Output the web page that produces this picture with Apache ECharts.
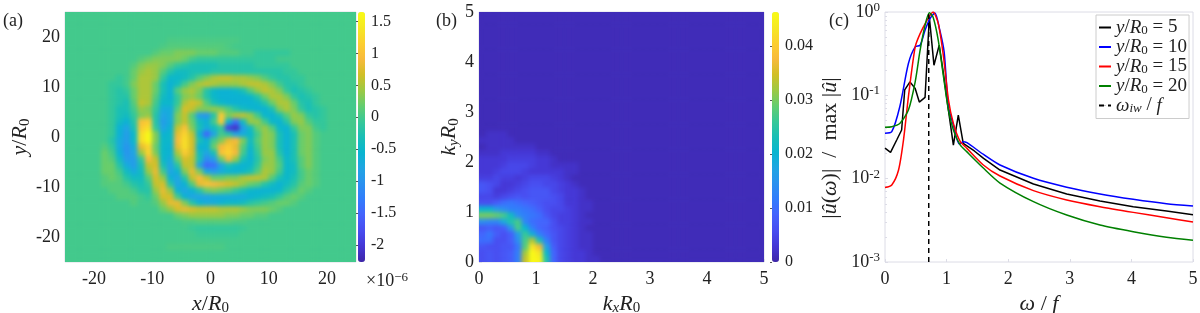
<!DOCTYPE html>
<html><head><meta charset="utf-8">
<script src="https://cdn.jsdelivr.net/npm/echarts@6/dist/echarts.min.js"></script>
<style>
html,body{margin:0;padding:0;background:#fff}
#c{width:1200px;height:313px}
canvas[data-zr-dom-id="zr_1"]{filter:url(#soft);clip-path:path('M65 12H356V262H65Z M479 12H764V262H479Z')}
</style></head><body>
<svg width="0" height="0" style="position:absolute"><filter id="soft" x="0" y="0" width="100%" height="100%" color-interpolation-filters="sRGB"><feGaussianBlur stdDeviation="2.2"/><feComponentTransfer><feFuncA type="linear" slope="60"/></feComponentTransfer></filter></svg>
<div id="c"></div>
<script>
// Panel (a): u field, rows top to bottom (y = 24.4 .. -24.4), each row = [first column, values in 1e-7 ...]
const fieldA = [
[],[],[],[],
[14,.5,.5,.5,.5,.5,.5,.5,.5,.5,.5],
[13,.5,1,1,1,1,1,1,1,1,.5],
[12,1,2,2,3,3,3,2,2,2,1,1,1,0,0,-1,-1,-1,-1,-1],
[10,1,2,3,3,3,3,2,0,-1,-1,-1,-1,-1,-1,-1,-1,-1,-1,-1],
[9,1,3,4,4,3,1,-1,-2,-3,-3,-3,-3,-2,-2,-2,-2,-2,-1,-1,-1,-1,-1],
[9,2,4,5,4,1,-2,-4,-4,-3,-3,-3,-2,-2,-2,-2,-2,-2,-2,-2,-2,-2,-1,-1],
[7,-1,0,2,5,5,4,-1,-5,-5,-4,-2,1,3,5,6,6,5,5,4,3,1,-1,-2,-2,-1,-1],
[6,-1,-1,0,3,5,5,2,-3,-6,-4,0,3,5,6,5,4,4,4,5,6,6,5,3,0,-2,-2,-1],
[6,-1,-2,-1,2,5,5,2,-3,-6,1,4,5,3,-2,-5,-6,-6,-5,-3,1,4,6,5,3,-1,-3,-2,-1],
[6,-1,-2,-2,2,5,5,1,-4,-6,-1,3,4,2,-2,-5,-6,-6,-6,-6,-5,-2,2,5,5,3,-1,-3,-2,-1],
[6,-1,-2,-3,1,6,5,0,-5,-5,-1,5,7,6,1,-3,-5,-6,-6,-6,-6,-5,-2,2,5,5,2,-2,-3,-1],
[6,-1,-3,-3,0,4,3,-1,-7,-7,1,7,6,3,3,4,3,1,-2,-4,-5,-6,-6,-3,3,5,3,-1,-3,-2,-1],
[6,-1,-3,-4,-1,3,4,-2,-8,-7,3,6,1,-9,-10,-2,11,3,5,6,4,0,-5,-6,-3,1,4,3,-1,-2,-1],
[6,-1,-4,-6,-2,10,11,-2,-9,-7,3,6,2,-4,-6,0,11,-6,-14,-4,4,4,0,-5,-6,-2,3,4,1,-1,-1],
[6,-1,-6,-8,-3,11,13,-1,-8,-6,6,10,3,-3,-7,-4,-1,-19,-21,-9,-4,2,4,1,-5,-6,-1,3,3,0,-1],
[6,-1,-6,-9,-5,13,16,3,-6,-5,8,12,6,-6,-15,-8,0,-2,-8,-7,-5,0,4,3,-3,-6,-3,2,3,1],
[5,0,-2,-7,-9,-5,13,16,3,-5,-5,9,13,7,-3,-6,0,3,8,9,3,-4,1,4,3,-3,-6,-3,2,3,1],
[5,1,-1,-7,-10,-7,8,12,2,-5,-6,8,13,7,-6,-6,2,9,11,8,1,-5,0,4,3,-3,-6,-3,2,3,1],
[5,2,0,-6,-10,-8,4,12,3,-5,-6,5,11,7,-4,-8,-3,10,12,9,0,-6,-1,4,4,-2,-6,-3,2,3,1],
[5,2,1,-4,-9,-9,-1,9,6,-5,-7,2,7,6,-3,-11,-9,2,9,4,-3,-6,-2,3,4,0,-5,-3,1,3,1],
[5,2,2,-2,-7,-9,-3,6,7,-3,-8,-2,6,6,-8,-15,-14,-8,-3,-5,-6,-5,-1,4,4,1,-5,-4,1,3,1],
[5,2,2,0,-4,-7,-4,4,8,0,-8,-6,3,8,3,-7,-9,-7,-6,-6,-5,-3,1,5,4,0,-5,-4,0,2,1],
[5,1,2,1,-2,-4,-4,1,7,4,-6,-8,-2,6,9,6,2,2,3,3,5,6,6,5,1,-3,-5,-3,0,2,1],
[5,1,1,1,0,-2,-3,-1,6,7,-2,-8,-6,1,8,10,9,8,7,6,4,2,1,-2,-4,-6,-4,-2,1,2,1],
[6,1,1,1,0,-2,-2,4,8,4,-6,-8,-6,-2,2,3,2,1,-1,-3,-5,-6,-6,-6,-5,-2,0,2,1],
[7,1,1,1,0,-1,2,7,7,0,-6,-8,-8,-8,-7,-7,-7,-7,-7,-6,-5,-4,-3,-1,1,2,1],
[8,0,1,0,0,1,4,8,8,3,-2,-6,-7,-7,-6,-5,-5,-4,-2,-1,0,1,2,2,1],
[11,0,0,2,4,7,8,7,6,6,6,5,5,5,4,3,3,3,2,1],
[14,0,2,3,4,4,4,4,4,3,3,2,2,1,1],
[16,.5,.5,1,1,1,1,1,.5,.5],
[17,-.5,-1,-1,-1,-1,-1,-1,-.5],
[18,-.5,-.5,-.5,-.5,-.5,-.5],
[],
[14,.5,.5,.5,.5,.5,.5,.5,.5],
[],[]
];
const stepCount = 40;
const backgroundA = 0;
// Panel (b): spectrum, rows bottom to top (ky = 0.06, 0.19, ...), values in 1e-3, columns from kx = 0.06
const fieldB = [
[6,7,6,7,8,12,34,46,45,24,9,5,4,3,3,2,2,1],
[6,7,6,7,8,12,32,46,43,21,9,5,4,3,3,2,1,1],
[7,6,6,7,7,11,28,43,37,17,8,5,4,3,2,2,1,1],
[10,10,6,6,8,14,27,33,23,12,7,5,4,3,2,2,1,1],
[9,11,8,6,8,16,26,19,12,9,7,5,4,3,2,2,1,1],
[7,8,7,8,15,27,20,12,9,8,6,5,4,3,2,1,1,1],
[14,13,13,18,24,27,13,10,9,9,6,4,4,3,2,2,1,1],
[30,30,29,27,22,14,12,11,10,7,5,4,4,3,2,1,1,1],
[20,20,16,14,12,12,11,10,8,6,5,5,4,3,2,2,1,1],
[6,6,8,10,11,10,9,8,7,6,6,5,3,3,2,2,1,1],
[5,5,4,5,6,7,6,7,7,7,6,5,3,3,2,1,1,1],
[7,6,3,3,4,5,6,7,7,7,5,4,3,3,2,1,1,1],
[7,6,5,3,3,4,5,6,6,5,5,4,3,2,1,1,1,1],
[4,4,5,4,4,3,4,5,5,5,4,3,2,1,1,1,1,1],
[3,3,4,5,5,5,4,3,3,3,3,3,2,2,1,1,1],
[3,3,3,4,5,5,5,4,3,3,2,2,2,2,1,1,1],
[3,3,3,3,4,4,4,4,3,3,2,1,1,1,1,1,1],
[2,2,2,3,3,3,3,3,2,2,1,1,1,1,1,1,1],
[1,2,2,2,2,2,2,2,1,1,1,1,1,1,1,1,1],
[2,2,2,2,2,1,1,1,1,1,1,1,1],
[1,2,2,2,1,1,1,1],
[1,1,1,1,1]
];
const backgroundB = 1;
// Panel (c): spectra
const seriesNames = ['y/R0 = 5','y/R0 = 10','y/R0 = 15','y/R0 = 20','omega_iw/f'];
const curve5 = [[0,.0232],[.09,.0207],[.19,.0291],[.27,.0384],[.32,.116],[.405,.145],[.49,.121],[.557,.083],[.65,.0944],[.72,.87],[.795,.23],[.88,.4],[.95,.18],[1.03,.066],[1.11,.0253],[1.19,.058],[1.27,.0266],[1.45,.0215],[1.6,.0175],[1.867,.0127],[2.41,.00863],[2.95,.00655],[3.49,.0054],[4.03,.00461],[4.57,.00409],[5,.0037]];
const curve10 = [[0,.035],[.11,.0366],[.24,.073],[.38,.241],[.49,.381],[.57,.399],[.65,.604],[.73,.832],[.81,.973],[.89,.604],[.96,.332],[1.03,.073],[1.11,.044],[1.205,.026],[1.27,.0278],[1.33,.027],[1.6,.0195],[1.867,.0146],[2.41,.0101],[2.95,.0079],[3.49,.00655],[4.03,.00565],[4.57,.005],[5,.0047]];
const curve15 = [[0,.00783],[.11,.0084],[.22,.0127],[.3,.029],[.38,.096],[.49,.381],[.57,.55],[.68,.79],[.78,1],[.865,.725],[.95,.29],[1.03,.088],[1.11,.046],[1.22,.028],[1.33,.0231],[1.596,.0146],[1.867,.01076],[2.41,.00718],[2.95,.00555],[3.49,.00461],[4.03,.00394],[4.57,.0034],[5,.00302]];
const curve20 = [[0,.0413],[.11,.042],[.24,.046],[.38,.0665],[.49,.145],[.57,.348],[.65,.692],[.72,.98],[.78,.87],[.865,.458],[.95,.167],[1.03,.0665],[1.11,.0384],[1.22,.0254],[1.326,.0211],[1.596,.0134],[1.867,.00887],[2.41,.0053],[2.95,.00366],[3.49,.00278],[4.03,.00231],[4.57,.00198],[5,.00183]];
const curveIw = [[.71,.001],[.71,1]];
const ticksA = [-20,-10,0,10,20];
const ticksAy = [-20,-10,0,10,20];
const cbarTicksA = [-2,-1.5,-1,-0.5,0,0.5,1,1.5];
const cbarTicksB = [0,0.01,0.02,0.03,0.04];
const cbarA = [-2.27,1.65];
const cbarB = [0,0.0463];
const parula = ['rgb(62,38,168)','rgb(69,55,213)','rgb(72,77,240)','rgb(69,99,253)','rgb(50,124,252)','rgb(43,145,239)','rgb(32,165,227)','rgb(8,181,208)','rgb(25,191,182)','rgb(55,200,151)','rgb(100,205,111)','rgb(157,201,67)','rgb(209,191,39)','rgb(248,186,61)','rgb(252,207,48)','rgb(245,232,36)','rgb(249,251,21)'];
const serif = '"Liberation Serif",serif';
const ink = '#222';
const frame = '#dcdce6';

const cellsOf = (get,bg,scale)=>{const out=[];for(let i=0;i<stepCount;i++)for(let j=0;j<stepCount;j++){const v=get(i,j);out.push([j,i,(v===undefined?bg:v)/scale]);}return out;};
const heatA = cellsOf((i,j)=>{const row=fieldA[stepCount-1-i];return row&&row.length&&j>=row[0]?row[j-row[0]+1]:undefined;},backgroundA,10);
const heatB = cellsOf((i,j)=>{const row=fieldB[i];return row?row[j]:undefined;},backgroundB,1000);
const catIdx = Array.from({length:stepCount},(_,i)=>String(i));

const rich = {
  i:{fontFamily:serif,fontStyle:'italic',fontSize:22,color:ink},
  n:{fontFamily:serif,fontSize:22,color:ink},
  s:{fontFamily:serif,fontSize:15,color:ink,padding:[9,0,0,0]},
  si:{fontFamily:serif,fontStyle:'italic',fontSize:15,color:ink,padding:[9,0,0,0]},
  li:{fontFamily:serif,fontStyle:'italic',fontSize:19,color:ink},
  ln:{fontFamily:serif,fontSize:19,color:ink},
  ls:{fontFamily:serif,fontSize:13,color:ink,padding:[7,0,0,0]},
  lsi:{fontFamily:serif,fontStyle:'italic',fontSize:13,color:ink,padding:[7,0,0,0]},
  t:{fontFamily:serif,fontSize:18,color:ink},
  u:{fontFamily:serif,fontSize:13,color:ink,padding:[0,0,9,0]}
};
const tickLabel = {fontFamily:serif,fontSize:18,color:ink};
const baseAxis = {axisLine:{show:false},axisTick:{show:true,inside:true,length:3,lineStyle:{color:frame}},splitLine:{show:false},nameLocation:'middle',nameTextStyle:{rich:rich}};
const hiddenCat = {type:'category',show:false,data:catIdx};
const dummyX = {type:'value',show:false,min:0,max:1};

const legendFmt = {
 'y/R0 = 5':'{li|y}{ln|/}{li|R}{ls|0}{ln| = 5}',
 'y/R0 = 10':'{li|y}{ln|/}{li|R}{ls|0}{ln| = 10}',
 'y/R0 = 15':'{li|y}{ln|/}{li|R}{ls|0}{ln| = 15}',
 'y/R0 = 20':'{li|y}{ln|/}{li|R}{ls|0}{ln| = 20}',
 'omega_iw/f':'{li|ω}{lsi|iw}{ln| / }{li|f}'
};
const lineSeries = (i,data,color,smooth,extra)=>Object.assign({type:'line',name:seriesNames[i],data,xAxisIndex:4,yAxisIndex:4,symbol:'none',smooth:smooth?0.25:false,lineStyle:{color,width:1.5},itemStyle:{color},clip:true},extra||{});
const gridBase = {outerBoundsMode:'none'};

const option = {
 animation:false,
 title:[
  {text:'(a)',left:3,top:12,padding:0,textStyle:{fontFamily:serif,fontSize:18,fontWeight:'normal',color:ink}},
  {text:'(b)',left:436,top:12,padding:0,textStyle:{fontFamily:serif,fontSize:18,fontWeight:'normal',color:ink}},
  {text:'(c)',left:829,top:12,padding:0,textStyle:{fontFamily:serif,fontSize:18,fontWeight:'normal',color:ink}},
  {text:'×10{u|−6}',left:366,top:271,padding:0,textStyle:{fontFamily:serif,fontSize:18,fontWeight:'normal',color:ink,rich:{u:{fontFamily:serif,fontSize:13,color:ink,padding:[0,0,8,0]}}}}
 ],
 grid:[
  {...gridBase,left:65,top:12,width:291,height:250,show:true,backgroundColor:'#37c897',borderColor:frame,borderWidth:1},
  {...gridBase,left:479,top:12,width:285,height:250,show:true,backgroundColor:'#3f2ab0',borderColor:frame,borderWidth:1},
  {...gridBase,left:885,top:12,width:308,height:250,show:true,backgroundColor:'#fff',borderColor:frame,borderWidth:1},
  {...gridBase,left:358,top:12,width:7,height:250},
  {...gridBase,left:772,top:12,width:7,height:250}
 ],
 xAxis:[
  Object.assign({gridIndex:0,position:'top'},hiddenCat),
  Object.assign({},baseAxis,{gridIndex:0,type:'value',position:'bottom',min:-25,max:25,axisLabel:{...tickLabel,margin:8,customValues:ticksA},axisTick:{...baseAxis.axisTick,customValues:ticksA},name:'{i|x}{n|/}{i|R}{s|0}',nameGap:27}),
  Object.assign({gridIndex:1,position:'top'},hiddenCat),
  Object.assign({},baseAxis,{gridIndex:1,type:'value',position:'bottom',min:0,max:5,interval:1,axisLabel:{...tickLabel,margin:8},name:'{i|k}{si|x}{i|R}{s|0}',nameGap:27}),
  Object.assign({},baseAxis,{gridIndex:2,type:'value',position:'bottom',min:0,max:5,interval:1,axisLabel:{...tickLabel,margin:8},name:'{i|ω}{n| / }{i|f}',nameGap:27}),
  Object.assign({gridIndex:3},dummyX),
  Object.assign({gridIndex:4},dummyX)
 ],
 yAxis:[
  Object.assign({gridIndex:0,position:'right'},hiddenCat),
  Object.assign({},baseAxis,{gridIndex:0,type:'value',position:'left',min:-25,max:25,axisLabel:{...tickLabel,margin:5,customValues:ticksAy},axisTick:{...baseAxis.axisTick,customValues:ticksAy},name:'{i|y}{n|/}{i|R}{s|0}',nameGap:30,nameRotate:90}),
  Object.assign({gridIndex:1,position:'right'},hiddenCat),
  Object.assign({},baseAxis,{gridIndex:1,type:'value',position:'left',min:0,max:5,interval:1,axisLabel:{...tickLabel,margin:5},name:'{i|k}{si|y}{i|R}{s|0}',nameGap:17,nameRotate:90}),
  Object.assign({},baseAxis,{gridIndex:2,type:'log',position:'left',logBase:10,min:0.001,max:1,axisLabel:{...tickLabel,margin:5,formatter:v=>'{t|10}{u|'+Math.round(Math.log10(v))+'}',rich:rich},minorTick:{show:true,splitNumber:9,length:2,lineStyle:{color:frame}},name:'{n||}{i|û}{n|(}{i|ω}{n|)|  /  max |}{i|û}{n||}',nameGap:44,nameRotate:90,nameTextStyle:{rich:rich,padding:[0,22,0,0]}}),
  {gridIndex:3,type:'value',position:'right',min:cbarA[0],max:cbarA[1],axisLine:{show:false},splitLine:{show:false},axisTick:{show:true,inside:true,length:2,lineStyle:{color:'#555'},customValues:cbarTicksA},axisLabel:{fontFamily:serif,fontSize:16,color:ink,margin:6,customValues:cbarTicksA,formatter:v=>String(v)}},
  {gridIndex:4,type:'value',position:'right',min:cbarB[0],max:cbarB[1],axisLine:{show:false},splitLine:{show:false},axisTick:{show:true,inside:true,length:2,lineStyle:{color:'#555'},customValues:cbarTicksB},axisLabel:{fontFamily:serif,fontSize:16,color:ink,margin:6,customValues:cbarTicksB,formatter:v=>String(v)}}
 ],
 visualMap:[
  {type:'continuous',seriesIndex:0,min:cbarA[0],max:cbarA[1],left:358,top:12,itemWidth:7,itemHeight:250,padding:0,text:['',''],calculable:false,showLabel:false,inRange:{color:parula},hoverLink:false},
  {type:'continuous',seriesIndex:1,min:cbarB[0],max:cbarB[1],left:772,top:12,itemWidth:7,itemHeight:250,padding:0,text:['',''],calculable:false,showLabel:false,inRange:{color:parula},hoverLink:false}
 ],
 legend:{show:true,orient:'vertical',left:1096,top:15,padding:[3,2,3,2],itemGap:0,itemWidth:12,itemHeight:1,backgroundColor:'#fff',borderColor:'#ccc',borderWidth:1,
   data:seriesNames,formatter:n=>legendFmt[n],textStyle:{rich:rich},selectedMode:false},
 series:[
  {type:'heatmap',data:heatA,xAxisIndex:0,yAxisIndex:0,zlevel:1,silent:true,progressive:0},
  {type:'heatmap',data:heatB,xAxisIndex:2,yAxisIndex:2,zlevel:1,silent:true,progressive:0},
  lineSeries(0,curve5,'#000',false),
  lineSeries(1,curve10,'#0000ff',true),
  lineSeries(2,curve15,'#ff0000',true),
  lineSeries(3,curve20,'#008000',true),
  lineSeries(4,curveIw,'#000',false,{lineStyle:{color:'#000',width:1.5,type:[5,4]}})
 ]
};
const chart = echarts.init(document.getElementById('c'),null,{renderer:'canvas'});
chart.setOption(option);
</script></body></html>
